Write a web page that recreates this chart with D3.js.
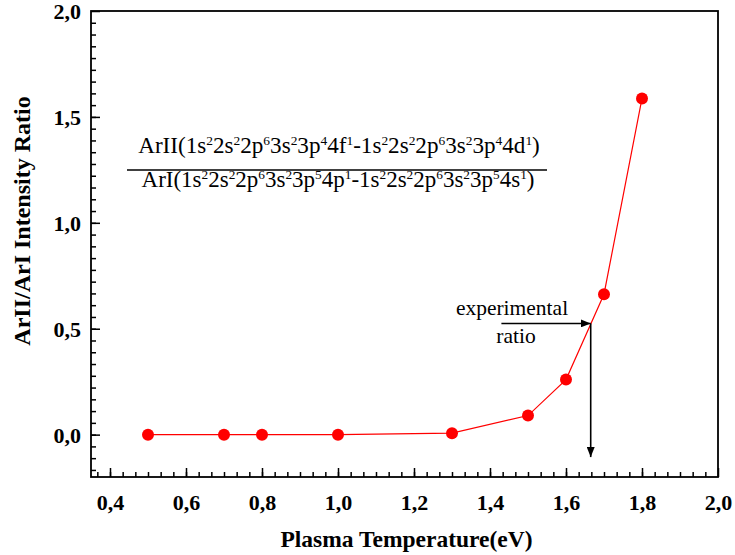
<!DOCTYPE html>
<html>
<head>
<meta charset="utf-8">
<script src="https://cdn.jsdelivr.net/npm/d3@7"></script>
<style>
  html, body { margin: 0; padding: 0; background: #fff; }
  svg { display: block; }
  svg text { font-family: "Liberation Serif", "Tinos", "Times New Roman", "DejaVu Serif", serif; fill: #000; }
</style>
</head>
<body>
<svg id="chart" width="735" height="555"></svg>
<script>
// Plasma temperature (eV) and the ArII/ArI line-intensity ratio
const temperature = [0.5, 0.7, 0.8, 1.0, 1.3, 1.5, 1.6, 1.7, 1.8];
const intensityRatio = [0.0, 0.0, 0.0, 0.0, 0.007, 0.09, 0.26, 0.663, 1.587];

// Measured ratio and the temperature it corresponds to
const experimentalRatio = 0.525;
const experimentalTemperature = 1.665;
const arrowStartTemperature = 1.43;
const arrowEndRatio = -0.106;

const xTickValues = [0.4, 0.6, 0.8, 1.0, 1.2, 1.4, 1.6, 1.8, 2.0];
const yTickValues = [0.0, 0.5, 1.0, 1.5, 2.0];

const svg = d3.select("#chart");
const plot = { left: 91, right: 718, top: 11, bottom: 477 };

const x = d3.scaleLinear().domain([0.35, 2.0]).range([plot.left, plot.right]);
const y = d3.scaleLinear().domain([-0.2, 2.0]).range([plot.bottom, plot.top]);

const comma = v => d3.format(".1f")(v).replace(".", ",");

// minor tick positions: 5 between x majors, 8 between y majors
const xMinor = d3.range(0, 50).map(i => 0.4 - 0.2 / 6 + i * 0.2 / 6)
  .filter(v => v > 0.351 && v < 1.999);
const yMinor = d3.range(-4, 40).map(i => i * 0.5 / 9)
  .filter(v => v > -0.199 && v < 1.999);

// frame
svg.append("rect")
  .attr("x", plot.left).attr("y", plot.top)
  .attr("width", plot.right - plot.left).attr("height", plot.bottom - plot.top)
  .attr("fill", "none").attr("stroke", "#000").attr("stroke-width", 1.8);

// x axis (ticks point inward)
const gxMinor = svg.append("g").attr("transform", `translate(0,${plot.bottom})`)
  .call(d3.axisBottom(x).tickValues(xMinor).tickSize(-5).tickFormat(""));
const gx = svg.append("g").attr("transform", `translate(0,${plot.bottom})`)
  .call(d3.axisBottom(x).tickValues(xTickValues).tickSize(-9).tickPadding(17).tickFormat(comma));

// y axis (ticks point inward)
const gyMinor = svg.append("g").attr("transform", `translate(${plot.left},0)`)
  .call(d3.axisLeft(y).tickValues(yMinor).tickSize(-5).tickFormat(""));
const gy = svg.append("g").attr("transform", `translate(${plot.left},0)`)
  .call(d3.axisLeft(y).tickValues(yTickValues).tickSize(-9).tickPadding(10).tickFormat(comma));

[gxMinor, gx, gyMinor, gy].forEach(g => {
  g.attr("font-family", null).attr("font-size", null);
  g.select(".domain").remove();
  g.selectAll(".tick line").attr("stroke", "#000").attr("stroke-width", 1.5);
});
[gxMinor, gyMinor].forEach(g => g.selectAll(".tick text").remove());
[gx, gy].forEach(g => g.selectAll(".tick text")
  .attr("font-weight", "bold").attr("font-size", 22).attr("fill", "#000"));
gx.selectAll(".tick text").attr("dy", "0.71em");
gy.selectAll(".tick text").attr("dy", "0.34em");

// axis titles
svg.append("text")
  .attr("x", (plot.left + plot.right) / 2 + 2).attr("y", 547)
  .attr("text-anchor", "middle").attr("font-weight", "bold").attr("font-size", 23.5)
  .text("Plasma Temperature(eV)");
svg.append("text")
  .attr("transform", `translate(30,${(plot.top + plot.bottom) / 2 - 23}) rotate(-90)`)
  .attr("text-anchor", "middle").attr("font-weight", "bold").attr("font-size", 24)
  .text("ArII/ArI Intensity Ratio");

// data line and markers
const line = d3.line().x((d, i) => x(temperature[i])).y(d => y(d));
svg.append("path").datum(intensityRatio)
  .attr("d", line).attr("fill", "none").attr("stroke", "#ff0000").attr("stroke-width", 1.2);
svg.append("g").selectAll("circle").data(intensityRatio).join("circle")
  .attr("cx", (d, i) => x(temperature[i])).attr("cy", d => y(d))
  .attr("r", 6).attr("fill", "#ff0000");

// arrows marking the experimental ratio
const defs = svg.append("defs");
defs.append("marker").attr("id", "head")
  .attr("viewBox", "0 0 10 8").attr("refX", 10).attr("refY", 4)
  .attr("markerWidth", 10).attr("markerHeight", 8).attr("markerUnits", "userSpaceOnUse")
  .attr("orient", "auto")
  .append("path").attr("d", "M0,0 L10,4 L0,8 Z").attr("fill", "#000");

svg.append("line")
  .attr("x1", x(arrowStartTemperature)).attr("y1", y(experimentalRatio))
  .attr("x2", x(experimentalTemperature)).attr("y2", y(experimentalRatio))
  .attr("stroke", "#000").attr("stroke-width", 1.6).attr("marker-end", "url(#head)");
svg.append("line")
  .attr("x1", x(experimentalTemperature)).attr("y1", y(experimentalRatio))
  .attr("x2", x(experimentalTemperature)).attr("y2", y(arrowEndRatio))
  .attr("stroke", "#000").attr("stroke-width", 1.6).attr("marker-end", "url(#head)");

svg.append("text").attr("x", 512).attr("y", 315)
  .attr("text-anchor", "middle").attr("font-size", 21.5).text("experimental");
svg.append("text").attr("x", 516).attr("y", 343)
  .attr("text-anchor", "middle").attr("font-size", 21.5).text("ratio");

// configuration fraction: [text, superscript]
const numerator = [["ArII(1s", "2"], ["2s", "2"], ["2p", "6"], ["3s", "2"], ["3p", "4"], ["4f", "1"],
                   ["-1s", "2"], ["2s", "2"], ["2p", "6"], ["3s", "2"], ["3p", "4"], ["4d", "1"], [")", ""]];
const denominator = [["ArI(1s", "2"], ["2s", "2"], ["2p", "6"], ["3s", "2"], ["3p", "5"], ["4p", "1"],
                     ["-1s", "2"], ["2s", "2"], ["2p", "6"], ["3s", "2"], ["3p", "5"], ["4s", "1"], [")", ""]];

function formula(parts, cx, baseline, size, width) {
  const t = svg.append("text").attr("x", cx).attr("y", baseline)
    .attr("text-anchor", "middle").attr("font-size", size);
  const shift = size * 0.36;
  let raised = false;
  parts.forEach(([base, sup]) => {
    t.append("tspan").attr("font-size", size).attr("dy", raised ? shift : 0).text(base);
    raised = false;
    if (sup) {
      t.append("tspan").attr("font-size", size * 0.58).attr("dy", -shift).text(sup);
      raised = true;
    }
  });
  // fit the formula to its measured width
  const len = t.node().getComputedTextLength();
  if (width && len > 0) {
    const k = width / len;
    t.selectAll("tspan").each(function () {
      const s = d3.select(this);
      s.attr("font-size", +s.attr("font-size") * k).attr("dy", +s.attr("dy") * k);
    });
  }
  return t;
}
formula(numerator, 339, 153, 20.5, 402);
formula(denominator, 338, 187, 20.5, 393);
svg.append("line").attr("x1", 127).attr("x2", 547).attr("y1", 170).attr("y2", 170)
  .attr("stroke", "#000").attr("stroke-width", 1.5);
</script>
</body>
</html>
